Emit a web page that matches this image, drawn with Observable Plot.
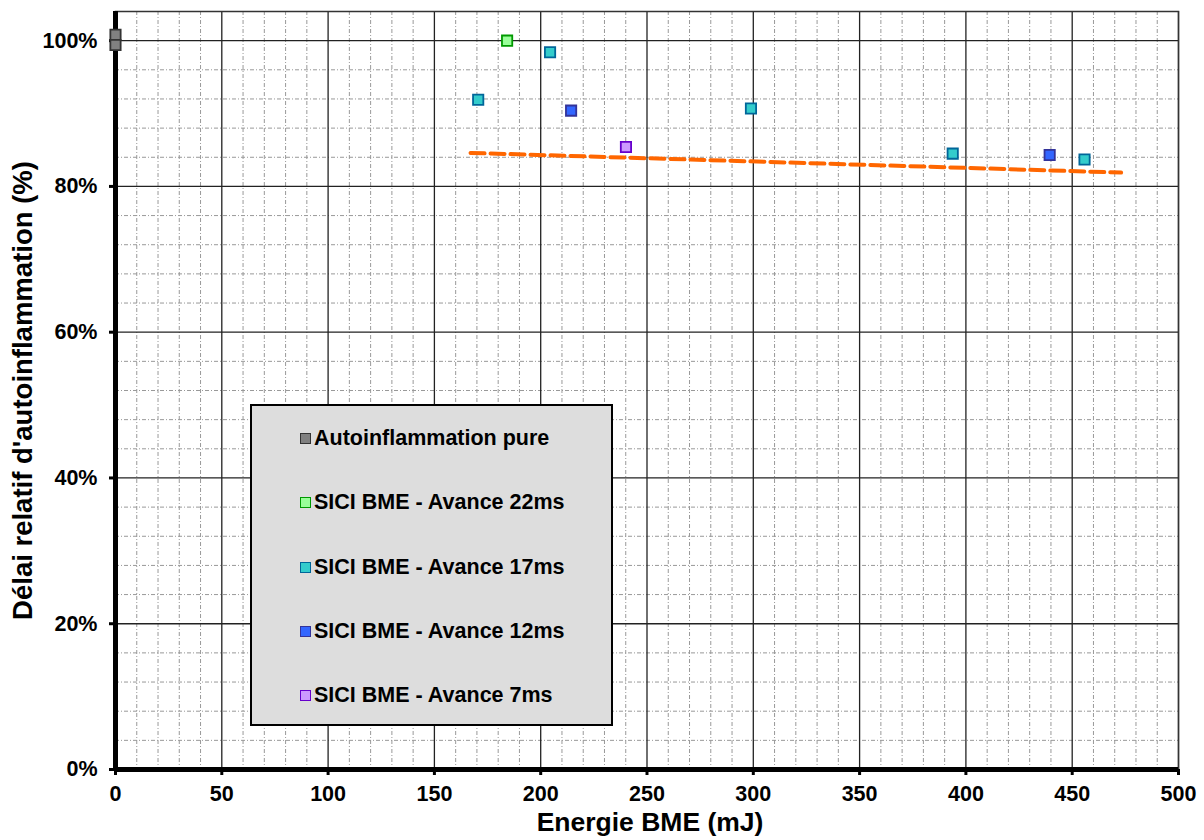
<!DOCTYPE html>
<html><head><meta charset="utf-8">
<script src="https://cdn.jsdelivr.net/npm/d3@7"></script>
<script src="https://cdn.jsdelivr.net/npm/@observablehq/plot@0.6"></script>
<style>
body{margin:0;background:#fff;font-family:"Liberation Sans",Arial,sans-serif;}
#wrap{position:relative;width:1204px;height:840px;}
#legend{position:absolute;left:250px;top:404px;width:359px;height:318px;background:#dddddd;border:2px solid #000;box-sizing:content-box;}
.item{position:absolute;left:48px;height:24px;display:flex;align-items:center;font-weight:bold;font-size:21.5px;color:#000;white-space:nowrap;}
.sw{width:9px;height:9px;border:1.5px solid #000;margin-right:3px;}
</style></head>
<body><div id="wrap"><div id="chart"></div><div id="legend"></div></div>
<script>
// ---- data ----
const seriesNames = ["Autoinflammation pure","SICI BME - Avance 22ms","SICI BME - Avance 17ms","SICI BME - Avance 12ms","SICI BME - Avance 7ms"];
const pointSeries = [0,0,1,2,2,3,4,2,2,3,2];
const pointX = [0,0,184.2,170.6,204.4,214.3,240.1,298.9,393.8,439.4,455.8];
const pointY = [100.8,99.4,100.0,91.9,98.4,90.4,85.4,90.7,84.5,84.3,83.7];
const trendX = [167,473];
const trendY = [84.6,81.9];
const xTicks = [0,50,100,150,200,250,300,350,400,450,500];
const yTicks = [0,20,40,60,80,100];

// ---- styles ----
const fills = ["#808080","#99ff99","#33cccc","#3366ff","#cc99ff"];
const strokes = ["#333333","#009900","#006699","#333399","#6600cc"];

const points = pointX.map((x,i)=>({x, y:pointY[i], s:pointSeries[i]}));
const trend = trendX.map((x,i)=>({x, y:trendY[i]}));
const minorX = d3.range(0,501,10).filter(v=>v%50!==0);
const minorY = d3.range(0,105,4).filter(v=>v%20!==0 && v<104);
const font = {fontFamily:'"Liberation Sans",Arial,sans-serif', fontWeight:"bold", fontSize:"21.5px", color:"#000", background:"transparent", overflow:"visible"};

const chart = Plot.plot({
  width:1204, height:840,
  marginLeft:115, marginRight:26, marginTop:11, marginBottom:71,
  style:font,
  x:{domain:[0,500]},
  y:{domain:[0,104]},
  marks:[
    Plot.gridX(minorX,{stroke:"#999",strokeOpacity:1,strokeDasharray:"4,2,1,2"}),
    Plot.gridY(minorY,{stroke:"#999",strokeOpacity:1,strokeDasharray:"4,2,1,2"}),
    Plot.gridX(xTicks,{stroke:"#222",strokeOpacity:1,strokeWidth:1.3}),
    Plot.gridY(yTicks,{stroke:"#222",strokeOpacity:1,strokeWidth:1.3}),
    Plot.frame({stroke:"#333",strokeWidth:1.5}),
    Plot.axisX({ticks:xTicks, tickSize:6, tickPadding:10, strokeWidth:3, label:null, tickFormat:d=>String(d)}),
    Plot.axisY({ticks:yTicks, tickSize:6, tickPadding:12, strokeWidth:3, label:null, tickFormat:d=>d+"%"}),
    Plot.ruleX([0],{strokeWidth:5,stroke:"#000"}),
    Plot.ruleY([0],{strokeWidth:5,stroke:"#000"}),
    Plot.line(trend,{x:"x",y:"y",stroke:"#ff6600",strokeWidth:4,strokeDasharray:"14,6"}),
    Plot.dot(points,{x:"x",y:"y",symbol:"square",r:5.8,fill:d=>fills[d.s],stroke:d=>strokes[d.s],strokeWidth:1.8}),
    Plot.text(["Energie BME (mJ)"],{frameAnchor:"bottom",dy:61,dx:3,fontSize:26.5,fontWeight:"bold",fill:"#000"}),
    Plot.text(["Délai relatif d'autoinflammation (%)"],{frameAnchor:"left",textAnchor:"middle",dx:-92,rotate:-90,fontSize:27.5,fontWeight:"bold",fill:"#000"})
  ]
});
document.getElementById("chart").appendChild(chart);

const legend = document.getElementById("legend");
const tops = [20,84,149,213,277];
seriesNames.forEach((name,i)=>{
  const it = document.createElement("div");
  it.className="item"; it.style.top = tops[i]+"px";
  const sw = document.createElement("span"); sw.className="sw";
  sw.style.background = fills[i]; sw.style.borderColor = strokes[i];
  it.appendChild(sw); it.appendChild(document.createTextNode(name));
  legend.appendChild(it);
});
</script></body></html>
